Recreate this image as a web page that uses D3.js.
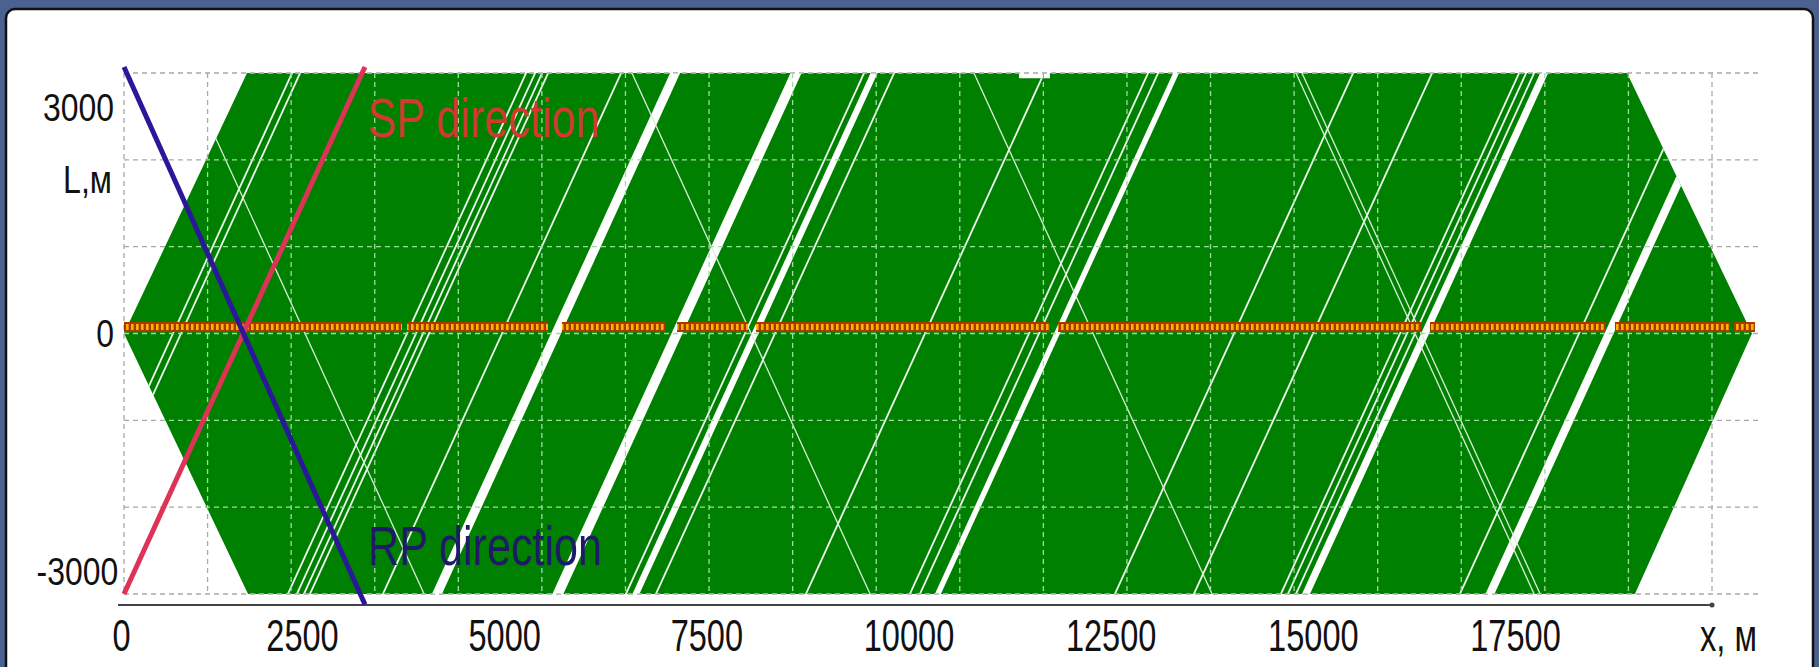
<!DOCTYPE html>
<html>
<head>
<meta charset="utf-8">
<script src="https://cdn.jsdelivr.net/npm/d3@7/dist/d3.min.js"></script>
<style>
  body { margin: 0; background: #4b6190; }
  svg { display: block; }
  text { font-family: "Liberation Sans", Arial, sans-serif; }
</style>
</head>
<body>
<script>
let width = 1819, height = 667;

// survey area outline (x, L in metres)
let areaX = [0, 1472, 10708, 10708, 11079, 11079, 17983, 19478, 18078, 1484];
let areaL = [0, 3000, 3000, 2940, 2940, 3000, 3000, 0, -3000, -3000];

// white stripes along SP direction: intercept at L = 0 (m)
let spThin = [586, 682, 3386, 3494, 3578, 3650, 4523, 7430, 7789, 9584, 10828, 10948,
              13281, 14226, 15267, 15351, 15447, 17409];
// wide gaps along SP direction: intercept (m) and width (m)
let spGap = [5169, 6616, 7550, 11163, 15567, 17768];
let spGapW = [120, 132, 84, 72, 96, 108];
// thin white stripes along RP direction
let rpThin = [2166, 7502, 11594, 15447, 15519];
let slope = 0.475;

// receiver string segments (m)
let stringFrom = [0, 3386, 5240, 6616, 7562, 11175, 15626, 17839, 19263];
let stringTo = [3326, 5073, 6473, 7466, 11079, 15518, 17720, 19215, 19514];
let stringL = 75;

// direction lines
let spLineX = [0, 2883], spLineL = [-3000, 3070];
let rpLineX = [0, 2883], rpLineL = [3070, -3120];

let gridX = [0, 1000, 2000, 3000, 4000, 5000, 6000, 7000, 8000, 9000, 10000,
             11000, 12000, 13000, 14000, 15000, 16000, 17000, 18000, 19000];
let gridL = [-3000, -2000, -1000, 0, 1000, 2000, 3000];
let xTicks = [0, 2500, 5000, 7500, 10000, 12500, 15000, 17500];
let yTicks = [3000, 0, -3000];

let svg = d3.select("body").append("svg")
    .attr("width", width)
    .attr("height", height);

// slide panel
svg.append("rect")
    .attr("x", 6).attr("y", 9)
    .attr("width", 1807).attr("height", 700)
    .attr("rx", 9)
    .attr("fill", "#fff")
    .attr("stroke", "#111")
    .attr("stroke-width", 2.5);

let x = d3.scaleLinear().domain([0, 19000]).range([124, 1712]);
let y = d3.scaleLinear().domain([-3000, 3000]).range([594, 73]);
// tick labels sit on their own spacing in the original picture
let xLab = d3.scaleLinear().domain([0, 2500, 17500]).range([121, 302, 1515]);
let yLab = d3.scaleLinear().domain([-3000, 0, 3000]).range([572, 334, 108]);

let defs = svg.append("defs");
let areaPts = areaX.map((d, i) => [x(d), y(areaL[i])]);
defs.append("clipPath").attr("id", "area")
    .append("polygon").attr("points", areaPts.join(" "));

let pat = defs.append("pattern").attr("id", "recv")
    .attr("patternUnits", "userSpaceOnUse")
    .attr("width", 5).attr("height", 10)
    .attr("y", y(stringL) - 5);
pat.append("rect").attr("width", 5).attr("height", 10).attr("fill", "#a83a00");
pat.append("rect").attr("x", 1).attr("y", 2).attr("width", 2.6).attr("height", 6).attr("fill", "#ffb400");

// grid (grey, outside the area)
let grid = svg.append("g").attr("stroke", "#a8a8a8").attr("stroke-width", 1.3).attr("stroke-dasharray", "5,4");
function drawGrid(g) {
    g.selectAll("line.v").data(gridX).enter().append("line")
        .attr("class", "v")
        .attr("x1", d => x(d)).attr("x2", d => x(d))
        .attr("y1", y(3000)).attr("y2", y(-3000));
    g.selectAll("line.h").data(gridL).enter().append("line")
        .attr("class", "h")
        .attr("x1", x(0)).attr("x2", x(19550))
        .attr("y1", d => y(d)).attr("y2", d => y(d));
}
drawGrid(grid);

// coverage area
svg.append("polygon")
    .attr("points", areaPts.join(" "))
    .attr("fill", "#008000");

let stripes = svg.append("g").attr("clip-path", "url(#area)");
let L0 = -3300, L1 = 3300;
stripes.selectAll("polygon.gap").data(spGap).enter().append("polygon")
    .attr("class", "gap")
    .attr("fill", "#fff")
    .attr("points", (d, i) => {
        let w = spGapW[i] / 2;
        return [[x(d - w + slope * L0), y(L0)], [x(d + w + slope * L0), y(L0)],
                [x(d + w + slope * L1), y(L1)], [x(d - w + slope * L1), y(L1)]].join(" ");
    });
stripes.selectAll("line.sp").data(spThin).enter().append("line")
    .attr("class", "sp")
    .attr("x1", d => x(d + slope * L0)).attr("y1", y(L0))
    .attr("x2", d => x(d + slope * L1)).attr("y2", y(L1))
    .attr("stroke", "#eef8ee").attr("stroke-width", 1.8);
stripes.selectAll("line.rp").data(rpThin).enter().append("line")
    .attr("class", "rp")
    .attr("x1", d => x(d - slope * L0)).attr("y1", y(L0))
    .attr("x2", d => x(d - slope * L1)).attr("y2", y(L1))
    .attr("stroke", "#d8f0d8").attr("stroke-width", 1.3);

// grid over the area shows light green
let gridIn = svg.append("g").attr("clip-path", "url(#area)")
    .attr("stroke", "#9fdc9f").attr("stroke-width", 1.3).attr("stroke-dasharray", "5,4");
drawGrid(gridIn);

// receiver string
svg.selectAll("rect.recv").data(stringFrom).enter().append("rect")
    .attr("class", "recv")
    .attr("x", d => x(d))
    .attr("width", (d, i) => x(stringTo[i]) - x(d))
    .attr("y", y(stringL) - 5).attr("height", 10)
    .attr("fill", "url(#recv)");

// x axis line
svg.append("line")
    .attr("x1", x(0) - 6).attr("x2", x(19000))
    .attr("y1", 605).attr("y2", 605)
    .attr("stroke", "#444").attr("stroke-width", 2);
svg.append("circle").attr("cx", x(19000)).attr("cy", 605).attr("r", 2.5).attr("fill", "#444");

// direction lines
let line = d3.line();
svg.append("path")
    .attr("d", line(spLineX.map((d, i) => [x(d), y(spLineL[i])])))
    .attr("stroke", "#dc3356").attr("stroke-width", 5).attr("fill", "none");
svg.append("path")
    .attr("d", line(rpLineX.map((d, i) => [x(d), y(rpLineL[i])])))
    .attr("stroke", "#2b179a").attr("stroke-width", 5).attr("fill", "none");

// labels (narrow face in the original, so squeeze horizontally)
let xAxis = svg.append("g")
    .attr("transform", "translate(0,619)")
    .call(d3.axisBottom(xLab).tickValues(xTicks).tickSize(0).tickPadding(0).tickFormat(d => String(d)));
xAxis.select(".domain").remove();
xAxis.selectAll("text")
    .attr("font-size", 44).attr("fill", "#111").attr("dy", "0.72em")
    .attr("transform", "scale(0.74,1)")
    .style("font-family", "'Liberation Sans', Arial, sans-serif");

let yAxis = svg.append("g")
    .attr("transform", "translate(114,0)")
    .call(d3.axisLeft(yLab).tickValues(yTicks).tickSize(0).tickPadding(0).tickFormat(d => String(d)));
yAxis.select(".domain").remove();
yAxis.selectAll("text")
    .attr("font-size", 38).attr("fill", "#111")
    .attr("dx", d => d < 0 ? 5 : 0)
    .attr("transform", "scale(0.84,1)")
    .style("font-family", "'Liberation Sans', Arial, sans-serif");

function label(txt, tx, ty, size, len, color) {
    svg.append("text").attr("x", tx).attr("y", ty)
        .attr("font-size", size).attr("fill", color)
        .attr("textLength", len).attr("lengthAdjust", "spacingAndGlyphs")
        .text(txt);
}
label("L,м", 63, 193, 38, 49, "#111");
label("x, м", 1700, 651, 44, 57, "#111");
label("SP direction", 368, 137, 56, 232, "#cf3b2e");
label("RP direction", 368, 565, 55, 234, "#1d1a66");
</script>
</body>
</html>
